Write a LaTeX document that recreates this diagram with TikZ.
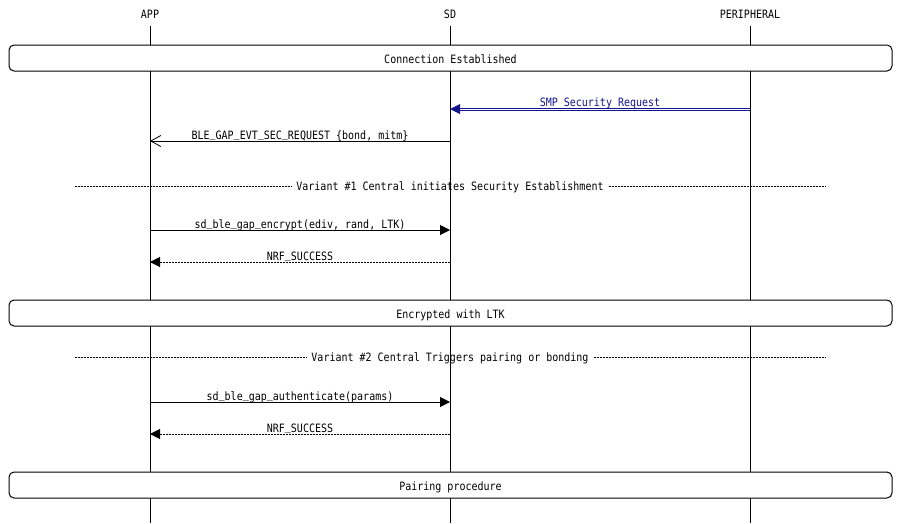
\documentclass[tikz,border=0pt]{standalone}
\usepackage{fontspec}
\setmainfont{DejaVu Sans Mono}[FakeStretch=0.87]
\usetikzlibrary{arrows.meta}
\definecolor{smpblue}{RGB}{20,20,140}
\newcommand\usc{\raisebox{2pt}{\_}}
\tikzset{
  txt/.style={font=\fontsize{11.5pt}{13pt}\selectfont},
  lbl/.style={txt, inner sep=0pt, anchor=base},
  vlbl/.style={lbl, inner xsep=5pt},
  lifeline/.style={line width=1pt},
  ebox/.style={txt, draw, line width=1pt, fill=white, rounded corners=5pt, minimum width=883pt, minimum height=26pt, inner sep=0pt, text height=8.4pt, text depth=0pt},
  msg/.style={line width=1pt, -{Triangle[length=10pt,width=10pt]}},
  ret/.style={msg, dash pattern=on 2pt off 1pt},
  omsg/.style={line width=0.8pt, -{Straight Barb[length=10pt,width=11pt,line width=0.8pt]}},
  sep/.style={line width=0.8pt, dash pattern=on 2pt off 1pt},
  smpline/.style={smpblue, line width=0.9pt},
}
\begin{document}
\begin{tikzpicture}[x=1pt,y=-1pt]
\useasboundingbox (0,0) rectangle (900,523);
% headers
\node[lbl] (app) at (150,18) {APP};
\node[lbl] (sd) at (450,18) {SD};
\node[lbl] (per) at (750,18) {PERIPHERAL};
% lifelines
\coordinate (appT) at (150,26); \coordinate (appB) at (150,523);
\coordinate (sdT) at (450,26); \coordinate (sdB) at (450,523);
\coordinate (perT) at (750,26); \coordinate (perB) at (750,523);
\draw[lifeline] (appT) -- (appB);
\draw[lifeline] (sdT) -- (sdB);
\draw[lifeline] (perT) -- (perB);
% boxes
\node[ebox] (b1) at (450.5,58) {\raisebox{-1pt}{Connection Established}};
\node[ebox] (b2) at (450.5,313) {\raisebox{-1pt}{Encrypted with LTK}};
\node[ebox] (b3) at (450.5,485) {\raisebox{-1pt}{Pairing procedure}};
% SMP Security Request (double line)
\coordinate (m1s) at (750,109); \coordinate (m1e) at (450,109);
\draw[smpline] ([yshift=1pt]m1s) -- ([yshift=1pt,xshift=8pt]m1e);
\draw[smpline] ([yshift=-1pt]m1s) -- ([yshift=-1pt,xshift=8pt]m1e);
\fill[smpblue] (m1e) -- ++(10,-5) -- ++(0,10) -- cycle;
\node[lbl, text=smpblue] (m1l) at (600,106.5) {SMP Security Request};
% BLE_GAP_EVT_SEC_REQUEST
\coordinate (m2s) at (450,141); \coordinate (m2e) at (150,141);
\draw[omsg] (m2s) -- (m2e);
\node[lbl] (m2l) at (300,139) {BLE\usc GAP\usc EVT\usc SEC\usc REQUEST \{bond, mitm\}};
% Variant 1
\node[vlbl] (v1) at (450,190.5) {Variant \#1 Central initiates Security Establishment};
\coordinate (v1l) at (75,186); \coordinate (v1r) at (825,186);
\draw[sep] (v1l) -- (v1.west |- v1l);
\draw[sep] (v1.east |- v1r) -- (v1r);
% encrypt
\coordinate (m3s) at (150,230); \coordinate (m3e) at (450,230);
\draw[msg] (m3s) -- (m3e);
\node[lbl] (m3l) at (300,228) {sd\usc ble\usc gap\usc encrypt(ediv, rand, LTK)};
% NRF_SUCCESS
\coordinate (m4s) at (450,262); \coordinate (m4e) at (150,262);
\draw[ret] (m4s) -- (m4e);
\node[lbl] (m4l) at (300,260) {NRF\usc SUCCESS};
% Variant 2
\node[vlbl] (v2) at (450,361.5) {Variant \#2 Central Triggers pairing or bonding};
\coordinate (v2l) at (75,357); \coordinate (v2r) at (825,357);
\draw[sep] (v2l) -- (v2.west |- v2l);
\draw[sep] (v2.east |- v2r) -- (v2r);
% authenticate
\coordinate (m5s) at (150,402); \coordinate (m5e) at (450,402);
\draw[msg] (m5s) -- (m5e);
\node[lbl] (m5l) at (300,400) {sd\usc ble\usc gap\usc authenticate(params)};
% NRF_SUCCESS 2
\coordinate (m6s) at (450,434); \coordinate (m6e) at (150,434);
\draw[ret] (m6s) -- (m6e);
\node[lbl] (m6l) at (300,432) {NRF\usc SUCCESS};
\end{tikzpicture}
\end{document}
